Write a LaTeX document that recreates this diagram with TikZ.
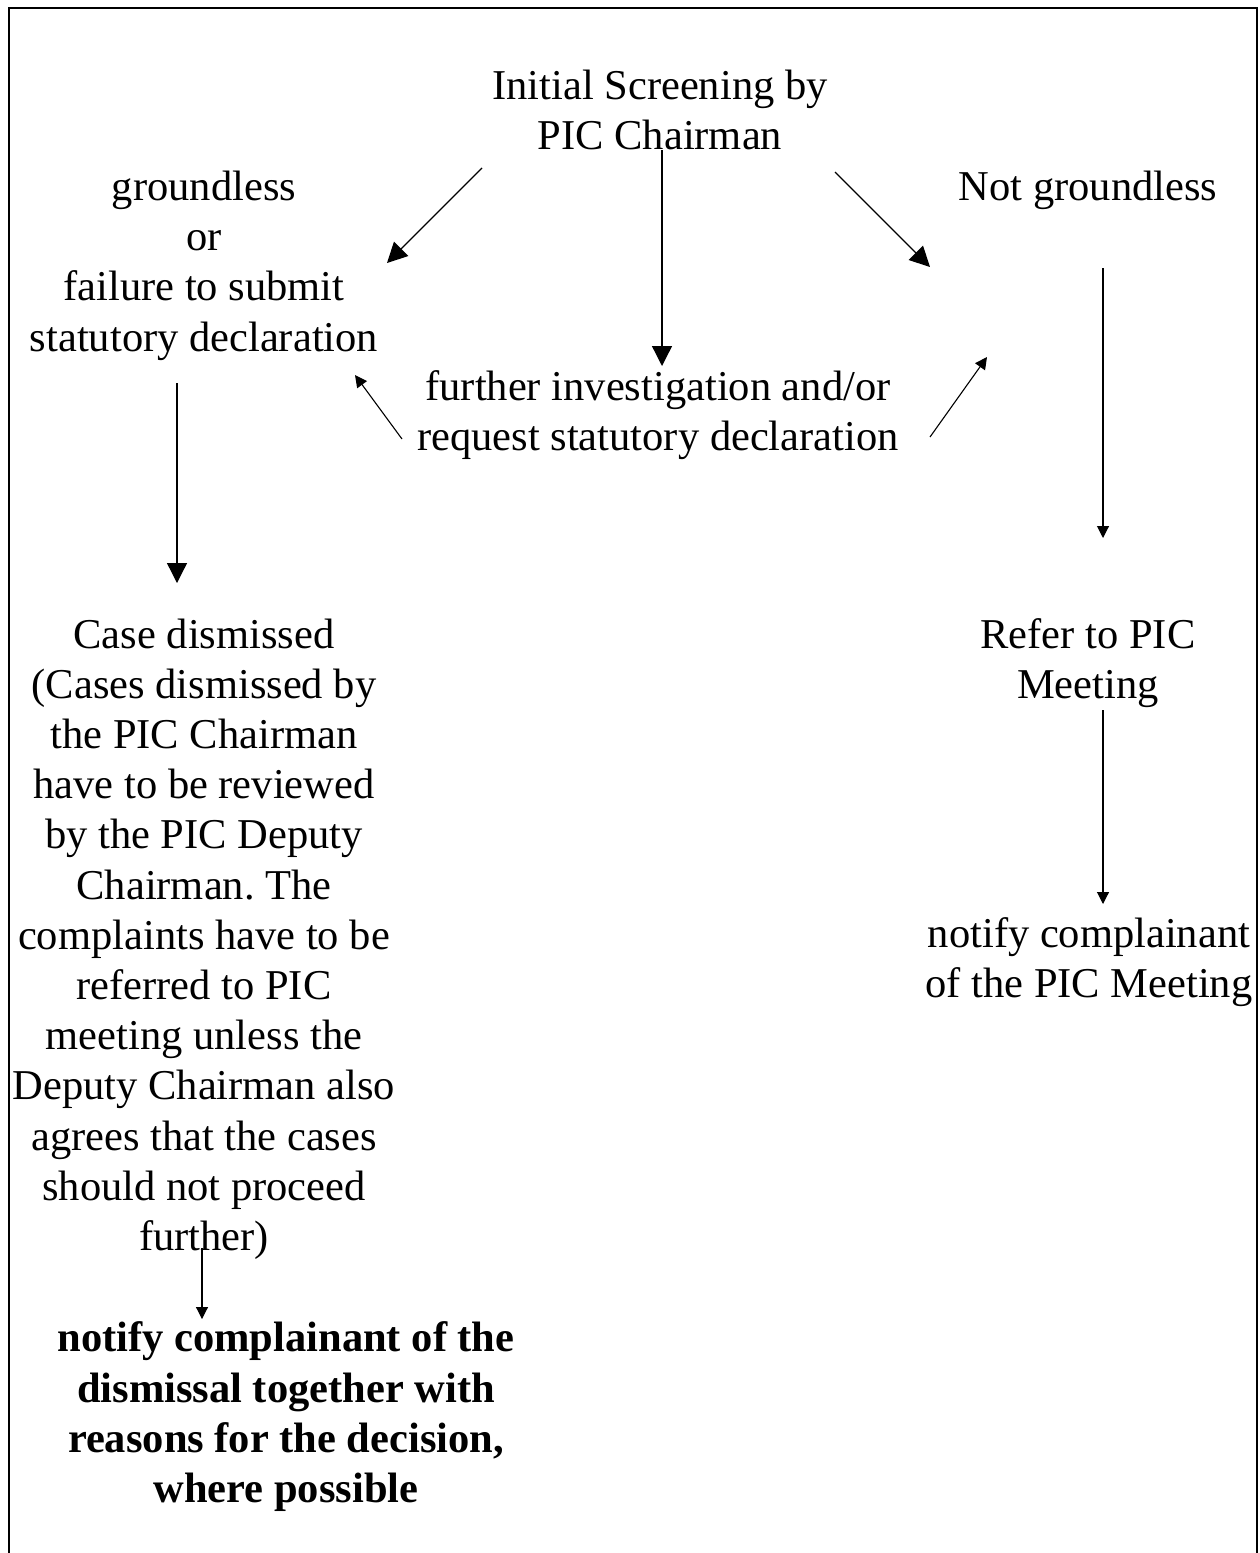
\documentclass[tikz,border=0pt]{standalone}
\usepackage{fontspec}
\setmainfont{Liberation Serif}
\usetikzlibrary{arrows.meta}
\frenchspacing
\begin{document}
\begin{tikzpicture}[x=1pt,y=-1pt,
  txt/.style={inner sep=0pt, outer sep=0pt, align=center, anchor=north,
    font=\fontsize{42.5}{50.2}\selectfont},
  bigarrow/.style={line width=1.3pt, -{Triangle[length=20pt,width=20pt]}},
  smallarrow/.style={line width=1.1pt, -{Triangle[length=12pt,width=12pt]}},
  frameline/.style={line width=2.5pt}]
\useasboundingbox (0,0) rectangle (1260,1553);
\draw[frameline] (9,1570) -- (9,8) -- (1257,8) -- (1257,1570);

% text nodes (top = first baseline - 35.1)
\node[txt] (init) at (660,63.9) {\strut Initial Screening by\\PIC Chairman};
\node[txt] (grd) at (204,165.4) {\strut groundless\\or\\failure to submit\\statutory declaration};
\node[txt] (notg) at (1088,164.9) {\strut Not groundless};
\node[txt] (furth) at (658,364.9) {\strut further investigation and/or\\request statutory declaration};
\node[txt] (case) at (204,612.9) {\strut Case dismissed\\(Cases dismissed by\\the PIC Chairman\\have to be reviewed\\by the PIC Deputy\\Chairman. The\\complaints have to be\\referred to PIC\\meeting unless the\\Deputy Chairman also\\agrees that the cases\\should not proceed\\further)};
\node[txt] (refer) at (1088,612.9) {\strut Refer to PIC\\Meeting};
\node[txt] (notr) at (1089,912.4) {\strut notify complainant\\of the PIC Meeting};
\node[txt, font=\fontsize{42.5}{50.4}\selectfont\bfseries] (notl) at (286,1316.4) {\strut notify complainant of the\\dismissal together with\\reasons for the decision,\\where possible};

% connector end points
\coordinate (a1s) at (482,168);  \coordinate (a1e) at (387,263);
\coordinate (a2s) at (662,150);  \coordinate (a2e) at (662,366);
\coordinate (a3s) at (835,172);  \coordinate (a3e) at (930,267);
\coordinate (a4s) at (1103,268); \coordinate (a4e) at (1103,538);
\coordinate (a5s) at (177,383);  \coordinate (a5e) at (177,583);
\coordinate (a6s) at (402,439);  \coordinate (a6e) at (355,375);
\coordinate (a7s) at (930,437);  \coordinate (a7e) at (987,357);
\coordinate (a8s) at (1103,710); \coordinate (a8e) at (1103,904);
\coordinate (a9s) at (202,1248); \coordinate (a9e) at (202,1319);

\draw[bigarrow] (a1s) -- (a1e);
\draw[bigarrow] (a2s) -- (a2e);
\draw[bigarrow] (a3s) -- (a3e);
\draw[smallarrow] (a4s) -- (a4e);
\draw[bigarrow] (a5s) -- (a5e);
\draw[smallarrow] (a6s) -- (a6e);
\draw[smallarrow] (a7s) -- (a7e);
\draw[smallarrow] (a8s) -- (a8e);
\draw[smallarrow] (a9s) -- (a9e);
\end{tikzpicture}
\end{document}
